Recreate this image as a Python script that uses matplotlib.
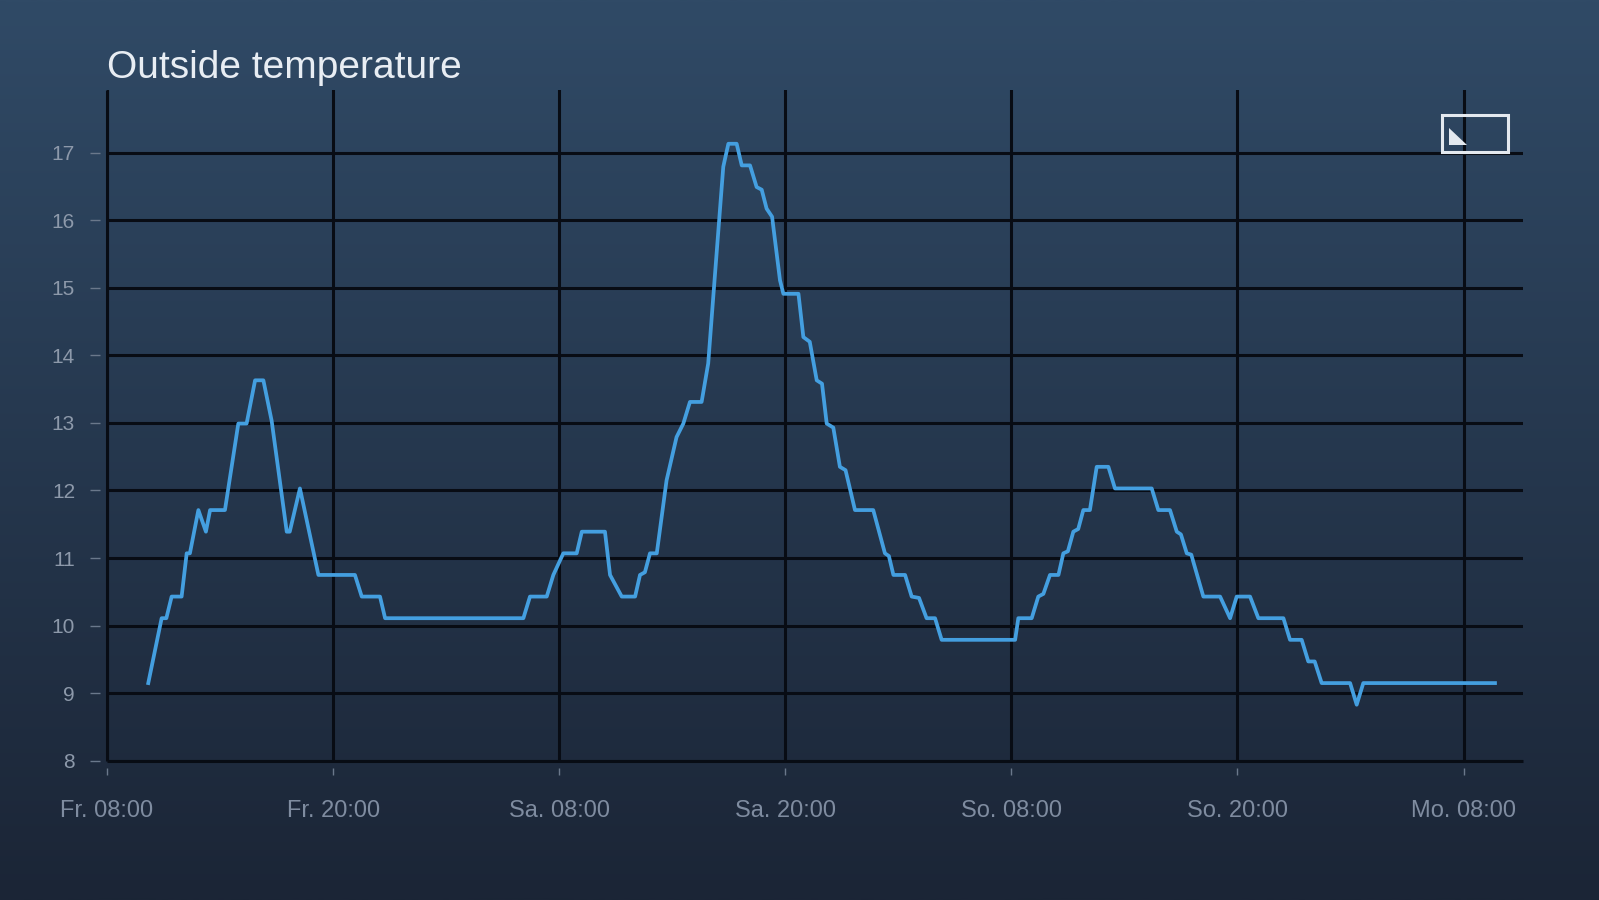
import numpy as np
import matplotlib
matplotlib.use("Agg")
import matplotlib.pyplot as plt
from matplotlib.patches import Rectangle, Polygon

# hours since Fr. 08:00 and outside temperature (°C)
hours = [2.19, 2.90, 3.15, 3.43, 3.96, 4.23, 4.40, 4.85, 5.25, 5.47, 6.26,
         6.97, 7.41, 7.86, 8.30, 8.74, 9.54, 9.70, 10.24, 11.22, 13.16,
         13.52, 14.49, 14.76, 22.10, 22.45, 23.34, 23.69, 24.22, 24.93,
         25.20, 26.43, 26.70, 27.32, 28.03, 28.29, 28.55, 28.82, 29.18,
         29.70, 30.23, 30.59, 30.94, 31.56, 31.91, 32.18, 32.45, 32.71,
         32.98, 33.42, 33.69, 34.13, 34.48, 34.75, 35.01, 35.30, 35.72,
         35.90, 36.70, 36.96, 37.30, 37.67, 37.95, 38.20, 38.55, 38.90,
         39.20, 39.70, 40.67, 41.29, 41.50, 41.74, 42.36, 42.71, 43.10,
         43.50, 43.95, 44.30, 48.20, 48.37, 49.08, 49.43, 49.70, 50.05,
         50.50, 50.76, 51.00, 51.29, 51.55, 51.82, 52.17, 52.53, 53.15,
         53.50, 55.45, 55.80, 56.42, 56.78, 57.00, 57.31, 57.55, 58.19,
         59.08, 59.61, 59.96, 60.67, 61.11, 62.44, 62.79, 63.41, 63.76,
         64.10, 64.47, 65.98, 66.33, 66.68, 73.67]
temps = [9.15, 10.11, 10.11, 10.43, 10.43, 11.07, 11.07, 11.71, 11.39, 11.71, 11.71,
         12.99, 12.99, 13.63, 13.63, 13.03, 11.39, 11.39, 12.03, 10.75, 10.75,
         10.43, 10.43, 10.11, 10.11, 10.43, 10.43, 10.75, 11.07, 11.07,
         11.39, 11.39, 10.75, 10.43, 10.43, 10.75, 10.79, 11.07, 11.07,
         12.15, 12.79, 12.99, 13.31, 13.31, 13.88, 14.87, 15.85, 16.79,
         17.13, 17.13, 16.81, 16.81, 16.49, 16.45, 16.17, 16.05, 15.11,
         14.91, 14.91, 14.27, 14.20, 13.63, 13.58, 12.99, 12.93, 12.35,
         12.30, 11.71, 11.71, 11.07, 11.03, 10.75, 10.75, 10.43, 10.41,
         10.11, 10.11, 9.79, 9.79, 10.11, 10.11, 10.43, 10.47, 10.75,
         10.75, 11.07, 11.10, 11.39, 11.43, 11.71, 11.71, 12.35, 12.35,
         12.03, 12.03, 11.71, 11.71, 11.39, 11.35, 11.07, 11.05, 10.43,
         10.43, 10.11, 10.43, 10.43, 10.11, 10.11, 9.79, 9.79, 9.47,
         9.47, 9.15, 9.15, 8.83, 9.15, 9.15]

tick_hours = [0, 12, 24, 36, 48, 60, 72]
tick_labels = ["Fr. 08:00", "Fr. 20:00", "Sa. 08:00", "Sa. 20:00",
               "So. 08:00", "So. 20:00", "Mo. 08:00"]
y_ticks = [8, 9, 10, 11, 12, 13, 14, 15, 16, 17]

plt.rcParams["font.family"] = ["Liberation Sans", "DejaVu Sans"]

W, H = 1599, 900
fig = plt.figure(figsize=(W / 100, H / 100), dpi=100)

# background gradient
bg = fig.add_axes([0, 0, 1, 1])
bg.axis("off")
top = np.array([48, 74, 102]) / 255
bottom = np.array([27, 37, 54]) / 255
t = np.linspace(0, 1, 256)[:, None, None]
grad = top * (1 - t) + bottom * t
bg.imshow(grad, aspect="auto", extent=[0, 1, 0, 1], interpolation="bilinear")

ax = fig.add_axes([107 / W, 1 - 760.8 / H, (1522.5 - 107) / W, (760.8 - 89.7) / H])
ax.set_facecolor("none")
ax.set_xlim(0, 75.13)
ax.set_ylim(8, 17.93)
ax.set_xticks(tick_hours, tick_labels)
ax.set_yticks(y_ticks)
ax.grid(True, color="#080c14", lw=2.2)
ax.set_axisbelow(True)
# edge lines (grid at the limits gets clipped)
ax.axhline(y_ticks[0], color="#080c14", lw=2.2, clip_on=False, zorder=1,
           solid_capstyle="butt")
ax.axvline(tick_hours[0], color="#080c14", lw=2.2, clip_on=False, zorder=1,
           solid_capstyle="butt")
ax.plot(hours, temps, color="#449fe0", lw=2.7, solid_joinstyle="round", zorder=3)

for s in ["top", "right"]:
    ax.spines[s].set_visible(False)
for s in ["left", "bottom"]:
    ax.spines[s].set_position(("outward", 5))
    ax.spines[s].set_visible(False)
ax.tick_params(axis="x", length=5, width=1, color="#6a788b", pad=18,
               labelsize=17, labelcolor="#7f8ca0")
ax.tick_params(axis="y", length=7, width=1, color="#6a788b", pad=11,
               labelsize=15, labelcolor="#8d99aa")

fig.text(107 / W, 1 - 77.5 / H, "Outside temperature", fontsize=28,
         color="#e8edf3", va="baseline", ha="left")

# small icon top right
fig.patches.append(Rectangle((1442 / W, 1 - 151.5 / H), 65.5 / W, 36.5 / H,
                             fill=False, ec="#e4e9ef", lw=2.2,
                             transform=fig.transFigure, figure=fig))
fig.patches.append(Polygon([(1449 / W, 1 - 128 / H), (1449 / W, 1 - 145 / H),
                            (1467 / W, 1 - 145 / H)], closed=True,
                           fc="#e4e9ef", ec="none",
                           transform=fig.transFigure, figure=fig))

fig.savefig("out.png", dpi=100)
